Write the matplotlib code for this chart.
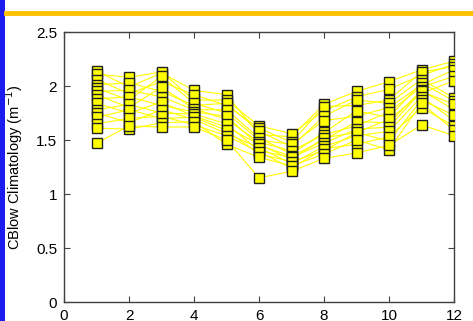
import matplotlib
matplotlib.use("Agg")
import matplotlib.pyplot as plt
from matplotlib.patches import Rectangle
from matplotlib.lines import Line2D

plt.rcParams["font.family"] = ["Liberation Sans", "DejaVu Sans"]

months = [1, 2, 3, 4, 5, 6, 7, 8, 9, 10, 11, 12]

# monthly CBlow climatology, one list per year
year01 = [2.14, 1.99, 2.12, 1.96, 1.92, 1.55, 1.53, 1.83, 1.95, 2.04, 2.15, 2.23]
year02 = [2.11, 2.08, 2.13, 1.87, 1.87, 1.63, 1.56, 1.77, 1.90, 1.97, 2.10, 2.20]
year03 = [2.06, 1.93, 2.04, 1.92, 1.82, 1.61, 1.48, 1.81, 1.82, 1.87, 2.13, 2.18]
year04 = [2.01, 2.03, 1.95, 1.82, 1.84, 1.58, 1.44, 1.72, 1.87, 1.84, 2.06, 1.89]
year05 = [1.98, 1.87, 2.09, 1.84, 1.75, 1.50, 1.46, 1.68, 1.72, 1.80, 2.01, 2.15]
year06 = [1.95, 1.96, 1.90, 1.78, 1.78, 1.52, 1.37, 1.57, 1.77, 1.71, 2.03, 1.86]
year07 = [1.92, 1.80, 1.99, 1.79, 1.69, 1.48, 1.40, 1.55, 1.63, 1.76, 1.99, 2.09]
year08 = [1.88, 1.90, 1.82, 1.76, 1.72, 1.45, 1.35, 1.50, 1.67, 1.66, 1.96, 1.78]
year09 = [1.84, 1.75, 1.85, 1.72, 1.62, 1.46, 1.32, 1.52, 1.57, 1.69, 1.93, 2.05]
year10 = [1.78, 1.83, 1.75, 1.74, 1.65, 1.40, 1.34, 1.47, 1.60, 1.62, 1.95, 1.83]
year11 = [1.75, 1.66, 1.78, 1.69, 1.56, 1.43, 1.28, 1.44, 1.54, 1.58, 1.90, 1.68]
year12 = [1.71, 1.78, 1.70, 1.71, 1.59, 1.37, 1.30, 1.40, 1.57, 1.49, 1.87, 1.73]
year13 = [1.65, 1.70, 1.72, 1.64, 1.54, 1.39, 1.24, 1.42, 1.46, 1.53, 1.80, 1.63]
year14 = [1.61, 1.60, 1.66, 1.67, 1.46, 1.34, 1.26, 1.37, 1.50, 1.41, 1.84, 1.59]
year15 = [1.47, 1.63, 1.62, 1.62, 1.50, 1.15, 1.21, 1.33, 1.38, 1.45, 1.64, 1.54]

years = [year01, year02, year03, year04, year05, year06, year07, year08,
         year09, year10, year11, year12, year13, year14, year15]

fig = plt.figure(figsize=(4.73, 3.21), dpi=100)
ax = fig.add_axes([64 / 473, 19 / 321, 390 / 473, 270 / 321])

for vals in years:
    ax.plot(months, vals, "-", color="#ffff00", lw=0.8, zorder=2)
for vals in years:
    ax.plot(months, vals, "s", ms=7.8, mfc="#ffff00", mec="#202020",
            mew=1.0, ls="none", zorder=3)

ax.set_xlim(0, 12)
ax.set_ylim(0, 2.5)
ax.set_xticks([0, 2, 4, 6, 8, 10, 12])
ax.set_yticks([0, 0.5, 1, 1.5, 2, 2.5])
ax.set_yticklabels(["0", "0.5", "1", "1.5", "2", "2.5"])
ax.tick_params(direction="in", length=4.5, width=0.8, color="#404040",
               top=True, right=True, labelsize=11, pad=5)
for sp in ax.spines.values():
    sp.set_color("#404040")
    sp.set_linewidth(1.0)
ax.set_ylabel("CBlow Climatology (m$^{-1}$)", fontsize=10.5, labelpad=8)

# frame decorations from the original screenshot
fig.add_artist(Rectangle((0, 0), 5 / 473, 1, transform=fig.transFigure,
                         color="#1c1cf0", lw=0))
fig.add_artist(Line2D([6 / 473, 1], [1 - 12.5 / 321, 1 - 12.5 / 321],
                      transform=fig.transFigure, color="#ffc000", lw=3.5))

fig.savefig("out.png", dpi=100)
